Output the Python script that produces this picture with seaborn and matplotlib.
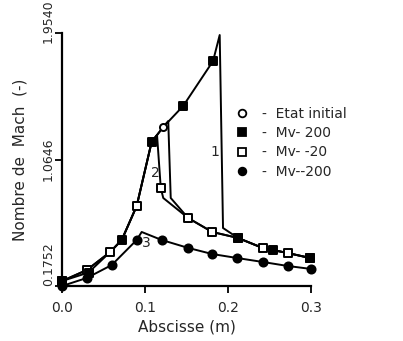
import numpy as np
import pandas as pd
import matplotlib
matplotlib.use("Agg")
import matplotlib.pyplot as plt
from matplotlib.lines import Line2D
import matplotlib.transforms as mtransforms
import seaborn as sns

# ---- data ----
x_init = [0.0, 0.030, 0.058, 0.072, 0.090, 0.108, 0.122, 0.128, 0.131, 0.152, 0.181, 0.212, 0.242, 0.272, 0.299]
y_init = [0.21, 0.288, 0.414, 0.499, 0.738, 1.188, 1.293, 1.335, 0.794, 0.653, 0.555, 0.513, 0.442, 0.407, 0.372]
m_init = [0, 0, 0, 0, 0, 0, 1, 0, 0, 1, 1, 0, 0, 0, 0]

x_p200 = [0.0, 0.032, 0.058, 0.072, 0.090, 0.108, 0.122, 0.146, 0.182, 0.190, 0.194, 0.212, 0.242, 0.254, 0.272, 0.299]
y_p200 = [0.21, 0.27, 0.414, 0.499, 0.738, 1.188, 1.293, 1.441, 1.757, 1.94, 0.583, 0.513, 0.442, 0.428, 0.407, 0.372]
m_p200 = [1, 1, 0, 1, 0, 1, 0, 1, 1, 0, 0, 1, 0, 1, 0, 1]

x_m20 = [0.0, 0.030, 0.058, 0.072, 0.090, 0.108, 0.1145, 0.119, 0.122, 0.152, 0.181, 0.212, 0.242, 0.272, 0.299]
y_m20 = [0.21, 0.288, 0.414, 0.499, 0.738, 1.188, 1.237, 0.864, 0.794, 0.653, 0.555, 0.513, 0.442, 0.407, 0.372]
m_m20 = [1, 1, 1, 0, 1, 0, 0, 1, 0, 1, 1, 1, 1, 1, 1]

x_m200 = [0.0, 0.030, 0.060, 0.090, 0.096, 0.120, 0.152, 0.181, 0.211, 0.242, 0.272, 0.300]
y_m200 = [0.175, 0.232, 0.323, 0.499, 0.555, 0.499, 0.443, 0.400, 0.372, 0.344, 0.316, 0.295]
m_m200 = [1, 1, 1, 1, 0, 1, 1, 1, 1, 1, 1, 1]

labels = ["Etat initial", "Mv- 200", "Mv- -20", "Mv--200"]
curve_tags = ["1", "2", "3"]
x_ticks = [0.0, 0.1, 0.2, 0.3]
y_ticks = [0.1752, 1.0646, 1.9540]
y_tick_labels = ["0.1752", "1.0646", "1.9540"]

frames = []
for lab, xs, ys, ms in zip(labels, [x_init, x_p200, x_m20, x_m200],
                           [y_init, y_p200, y_m20, y_m200],
                           [m_init, m_p200, m_m20, m_m200]):
    frames.append(pd.DataFrame({"x": xs, "y": ys, "mark": ms, "serie": lab}))
df = pd.concat(frames, ignore_index=True)

sns.set_style("ticks")
plt.rcParams["font.family"] = ["DejaVu Sans"]

fig = plt.figure(figsize=(4.03, 3.41), dpi=100)
ax = fig.add_axes([62 / 403, 1 - 286 / 341, (311 - 62) / 403, (286 - 33) / 341])

styles = {
    "Etat initial": dict(marker="o", facecolor="white", s=26),
    "Mv- 200": dict(marker="s", facecolor="black", s=34),
    "Mv- -20": dict(marker="s", facecolor="white", s=26),
    "Mv--200": dict(marker="o", facecolor="black", s=34),
}

for lab in labels:
    sub = df[df["serie"] == lab]
    sns.lineplot(data=sub, x="x", y="y", sort=False, estimator=None, color="black",
                 linewidth=1.4, ax=ax, legend=False, clip_on=False, zorder=2)
for lab in ["Etat initial", "Mv- -20", "Mv- 200", "Mv--200"]:
    sub = df[(df["serie"] == lab) & (df["mark"] == 1)]
    st = styles[lab]
    sns.scatterplot(data=sub, x="x", y="y", marker=st["marker"], s=st["s"],
                    facecolor=st["facecolor"], edgecolor="black", linewidth=1.4,
                    ax=ax, legend=False, clip_on=False, zorder=3)

ax.set_xlim(0, 0.3)
ax.set_ylim(0.1752, 1.954)
ax.set_xticks(x_ticks)
ax.set_xticklabels([f"{v:.1f}" for v in x_ticks], fontsize=10)
ax.set_yticks(y_ticks)
ax.set_yticklabels([])
ax.tick_params(axis="both", direction="out", length=5, width=1.3, color="black")
ax.tick_params(axis="x", pad=6)
sns.despine(ax=ax)
for sp in ["left", "bottom"]:
    ax.spines[sp].set_linewidth(1.6)
    ax.spines[sp].set_color("black")

# rotated y tick labels, placed by hand like the reference
blend = mtransforms.blended_transform_factory(ax.transAxes, ax.transData)
for val, txt, va, dy in zip(y_ticks, y_tick_labels, ["bottom", "center", "bottom"], [0, 0, -7]):
    tr = blend + mtransforms.ScaledTranslation(-5 / 72, dy / 72, fig.dpi_scale_trans)
    ax.text(0, val, txt, transform=tr, rotation=90, ha="right", va=va, fontsize=9)

ax.set_xlabel("Abscisse (m)", fontsize=11, labelpad=3)
ax.set_ylabel("Nombre de  Mach  (-)", fontsize=11, labelpad=16)

# curve tags
ax.text(0.184, 1.117, curve_tags[0], fontsize=10, ha="center", va="center")
ax.text(0.112, 0.97, curve_tags[1], fontsize=10, ha="center", va="center")
ax.text(0.101, 0.477, curve_tags[2], fontsize=10, ha="center", va="center")

handles = []
for lab in labels:
    st = styles[lab]
    handles.append(Line2D([], [], linestyle="none", marker=st["marker"],
                          markerfacecolor=st["facecolor"], markeredgecolor="black",
                          markeredgewidth=1.3, markersize=5.5))
fig.legend(handles, ["-  " + l for l in labels], loc="upper left",
           bbox_to_anchor=(230 / 403, 1 - 100 / 341), frameon=False, fontsize=10,
           handlelength=0.8, handletextpad=1.0, labelspacing=0.38, borderpad=0)

fig.savefig("out.png", dpi=100)
